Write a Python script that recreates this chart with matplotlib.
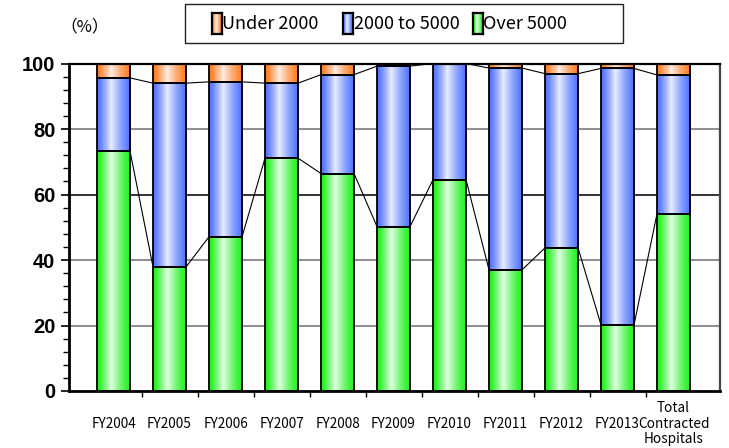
import numpy as np
import matplotlib
matplotlib.use("Agg")
import matplotlib.pyplot as plt
from matplotlib import font_manager
from matplotlib.patches import Rectangle
from matplotlib.colors import to_rgb

# ---- data (percent of hospitals by size class) ----
categories = ["FY2004", "FY2005", "FY2006", "FY2007", "FY2008", "FY2009",
              "FY2010", "FY2011", "FY2012", "FY2013",
              "Total\nContracted\nHospitals"]
over_5000 = [73.2, 37.9, 47.1, 71.1, 66.4, 50.2, 64.5, 37.0, 43.7, 20.2, 54.1]
mid_2000_5000 = [22.4, 56.1, 47.3, 22.9, 30.2, 49.0, 35.5, 61.6, 53.2, 78.3, 42.4]
under_2000 = [4.4, 6.0, 5.6, 6.0, 3.4, 0.8, 0.0, 1.4, 3.1, 1.5, 3.5]
series_names = ["Under 2000", "2000 to 5000", "Over 5000"]
y_ticks = [0, 20, 40, 60, 80, 100]

colors = {"Over 5000": "#1EF01E", "2000 to 5000": "#4F72FF", "Under 2000": "#FF7A22"}

installed = {f.name for f in font_manager.fontManager.ttflist}


def first_font(*names):
    for n in names:
        if n in installed:
            return n
    return "DejaVu Sans"


jp_font = first_font("Noto Sans CJK JP", "DejaVu Sans")
bold_font = first_font("Liberation Sans", "DejaVu Sans")


def gradient_strip(color, n=64):
    """Horizontal cylinder-like shading: saturated edges, pale highlight left of centre."""
    base = np.array(to_rgb(color))
    x = np.linspace(0, 1, n)
    peak = 0.42
    t = np.where(x < peak, x / peak, (1 - x) / (1 - peak))
    t = np.clip(t, 0, 1) ** 1.3 * 0.88
    rgb = base[None, :] * (1 - t[:, None]) + t[:, None]
    return rgb[None, :, :]


W, H = 729, 448
fig = plt.figure(figsize=(W / 100, H / 100), dpi=100)
ax = fig.add_axes([69.3 / W, 1 - 391 / H, (720 - 69.3) / W, (391 - 63.5) / H])

xpos = np.arange(len(categories))
width = 0.59

stack = [("Over 5000", over_5000), ("2000 to 5000", mid_2000_5000), ("Under 2000", under_2000)]
bottoms = np.zeros(len(categories))
levels = []
for name, vals in stack:
    vals = np.asarray(vals, dtype=float)
    grad = gradient_strip(colors[name])
    for xi, b, v in zip(xpos, bottoms, vals):
        if v <= 0:
            continue
        ax.imshow(grad, extent=[xi - width / 2, xi + width / 2, b, b + v],
                  aspect="auto", interpolation="bilinear", zorder=2)
    ax.bar(xpos, vals, width, bottom=bottoms, facecolor="none",
           edgecolor="black", linewidth=1.3, zorder=3)
    bottoms = bottoms + vals
    levels.append(bottoms.copy())

# series lines joining segment tops between neighbouring bars
for lev in levels[:2]:
    for i in range(len(categories) - 1):
        ax.plot([xpos[i] + width / 2, xpos[i + 1] - width / 2], [lev[i], lev[i + 1]],
                color="black", lw=0.8, zorder=2.5, solid_capstyle="butt")

ax.set_xlim(-0.79, len(categories) - 1 + 0.83)
ax.set_ylim(0, 100)

# gridlines
for yv in y_ticks[1:-1]:
    ax.axhline(yv, color="#111111" if yv == 60 else "#7a7a7a", lw=1.2, zorder=1)

ax.set_yticks(y_ticks)
ax.set_yticks(np.arange(0, 101, 4), minor=True)
ax.tick_params(axis="y", which="major", length=6, width=1.2, pad=4, direction="out")
ax.tick_params(axis="y", which="minor", length=4, width=1.0, direction="out")
for lbl in ax.get_yticklabels():
    lbl.set_fontfamily(bold_font)
    lbl.set_fontweight("bold")
    lbl.set_fontsize(14.5)

# category boundaries as ticks, names centred under bars
ax.set_xticks(xpos[:-1] + 0.5)
ax.set_xticklabels([])
ax.tick_params(axis="x", which="major", length=4, width=1.0, direction="out")
for xi, name in zip(xpos, categories):
    ax.text(xi, -10.0, name, ha="center", va="center", fontsize=9.8,
            family=jp_font, linespacing=1.12, transform=ax.transData, clip_on=False)

for side in ["left", "bottom"]:
    ax.spines[side].set_linewidth(2.0)
    ax.spines[side].set_color("black")
ax.spines["top"].set_linewidth(1.6)
ax.spines["top"].set_color("black")
ax.spines["right"].set_linewidth(1.6)
ax.spines["right"].set_color("#444444")

# unit label
fig.text(60 / W, 1 - 27 / H, "（%）", family=[jp_font, "DejaVu Sans"], fontsize=12,
         ha="left", va="center")

# legend box
fig.add_artist(Rectangle((185 / W, 1 - 43 / H), (623 - 185) / W, 39 / H,
                         transform=fig.transFigure, facecolor="white",
                         edgecolor="#222222", lw=1.0, zorder=-1))
legend_x = [212, 343, 473]
for lx, name in zip(legend_x, series_names):
    pax = fig.add_axes([lx / W, 1 - 34 / H, 10 / W, 21 / H], zorder=5)
    pax.imshow(gradient_strip(colors[name]), aspect="auto", interpolation="bilinear")
    pax.set_xticks([])
    pax.set_yticks([])
    for s in pax.spines.values():
        s.set_linewidth(1.6)
        s.set_color("black")
    fig.text((lx + 10.5) / W, 1 - 24 / H, name, family=jp_font, fontsize=13,
             ha="left", va="center", zorder=6)

fig.savefig("out.png", dpi=100)
